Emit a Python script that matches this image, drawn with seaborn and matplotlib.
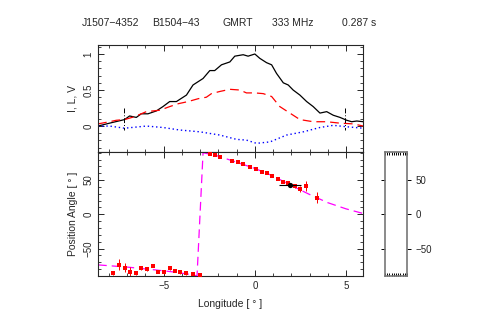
import matplotlib
matplotlib.use("Agg")
from matplotlib import pyplot as plt
from matplotlib.ticker import MultipleLocator
import pandas as pd
import seaborn as sns

# profile (normalised)
lon_i = [-8.6, -7.97, -7.14, -6.87, -6.5, -6.23, -5.86, -5.4, -5.04, -4.67, -4.3, -3.75, -3.39,
         -2.84, -2.47, -2.2, -1.83, -1.37, -1.1, -0.64, -0.37, 0.0, 0.27, 0.64, 0.92, 1.19, 1.56,
         1.83, 2.1, 2.47, 2.84, 3.2, 3.57, 3.94, 4.3, 4.67, 5.04, 5.31, 5.59, 5.95]
stokes_i = [0.0, 0.04, 0.09, 0.14, 0.12, 0.17, 0.17, 0.21, 0.27, 0.34, 0.34, 0.43, 0.57,
            0.66, 0.77, 0.77, 0.85, 0.89, 0.97, 0.99, 0.97, 1.0, 0.94, 0.88, 0.85, 0.73, 0.60,
            0.57, 0.5, 0.43, 0.34, 0.27, 0.18, 0.2, 0.15, 0.12, 0.08, 0.06, 0.07, 0.06]
lon_l = [-8.6, -7.97, -7.6, -7.14, -6.6, -5.95, -5.2, -4.67, -4.2, -3.66, -3.1, -2.66, -2.38,
         -1.92, -1.37, -0.82, -0.46, 0.0, 0.46, 0.92, 1.37, 1.92, 2.47, 3.2, 3.94, 4.67, 5.4, 5.95]
stokes_l = [0.03, 0.06, 0.08, 0.09, 0.13, 0.2, 0.22, 0.27, 0.31, 0.34, 0.38, 0.40, 0.45,
            0.48, 0.51, 0.5, 0.46, 0.46, 0.45, 0.41, 0.27, 0.18, 0.09, 0.06, 0.06, 0.04, 0.03, 0.0]
lon_v = [-8.6, -7.97, -7.14, -5.95, -5.04, -4.12, -3.02, -1.92, -1.0, -0.46, 0.09, 0.83, 1.74,
         2.66, 3.57, 4.3, 5.04, 5.95]
stokes_v = [0.0, 0.0, -0.03, 0.0, -0.02, -0.055, -0.08, -0.125, -0.185, -0.195, -0.24, -0.22,
            -0.125, -0.08, -0.02, 0.01, -0.01, -0.03]
window = [-7.15, 4.95]

# position angle
pa_lon = [-7.78, -7.45, -7.14, -6.87, -6.54, -6.23, -5.92, -5.59, -5.31, -5.0, -4.67, -4.4,
          -4.12, -3.79, -3.39, -3.02,
          -2.47, -2.2, -1.92, -1.28, -0.92, -0.64, -0.27, 0.09, 0.37, 0.64, 0.92, 1.28, 1.56,
          1.83, 2.2, 2.47, 2.8, 3.39]
pa_deg = [-86, -73.8, -77.7, -83.5, -86, -77.7, -79.6, -74.8, -83.5, -84.5, -78.6, -82.5,
          -84.5, -86, -87.4, -88.3,
          87.4, 86.4, 84, 77.7, 75.7, 72.8, 69.4, 66, 62, 59.7, 56.3, 51.5, 47.6,
          45.1, 41.7, 36.9, 41.7, 24.3]
pa_err = [3, 8, 6, 6, 3, 3, 3, 2.5, 2.5, 2.5, 2, 2, 2, 2, 2, 2,
          1.5, 1.5, 1.5, 1.5, 1.5, 1.5, 1.5, 1.5, 1.5, 1.5, 1.5, 2, 2,
          2.5, 3, 5, 7, 8]
fit_lon = [-8.6, -7.0, -5.5, -4.5, -3.6, -3.17, -2.84, -2.0, -1.0, 0.0, 1.0, 2.0, 3.0, 4.0,
           5.0, 5.9]
fit_pa = [-73.8, -77, -81, -84, -87.5, -89.8, 90, 85, 76, 67, 56, 42, 29, 17, 8, 1.5]
phi0, phi0_err, pa0 = 1.92, 0.6, 42.7

sns.set_style("ticks")
plt.rcParams["font.family"] = ["Liberation Sans", "DejaVu Sans"]
plt.rcParams.update({
    "font.size": 7, "axes.linewidth": 0.8,
    "xtick.direction": "in", "ytick.direction": "in",
    "xtick.top": True, "ytick.right": True,
    "xtick.major.size": 4, "ytick.major.size": 4,
    "xtick.minor.size": 2, "ytick.minor.size": 2,
    "xtick.major.width": 0.7, "ytick.major.width": 0.7,
    "xtick.minor.width": 0.6, "ytick.minor.width": 0.6,
})

fig = plt.figure(figsize=(4.91, 3.27), dpi=100)
ax1 = fig.add_axes([0.1996, 0.5352, 0.5397, 0.3272])
ax2 = fig.add_axes([0.1996, 0.156, 0.5397, 0.3792])
ax3 = fig.add_axes([0.784, 0.156, 0.0448, 0.3792])

df_i = pd.DataFrame({"lon": lon_i, "val": stokes_i})
df_l = pd.DataFrame({"lon": lon_l, "val": stokes_l})
df_v = pd.DataFrame({"lon": lon_v, "val": stokes_v})
sns.lineplot(data=df_i, x="lon", y="val", ax=ax1, color="black", lw=0.9, sort=False, estimator=None)
sns.lineplot(data=df_l, x="lon", y="val", ax=ax1, color="red", lw=0.9, sort=False, estimator=None,
             linestyle=(0, (7, 4)))
sns.lineplot(data=df_v, x="lon", y="val", ax=ax1, color="blue", lw=1.0, sort=False, estimator=None,
             linestyle=(0, (1, 2)))
for w in window:
    ax1.plot([w, w], [0.245, -0.055], color="black", lw=0.7, ls=(0, (5, 2, 1, 2)))
ax1.set_xlim(-8.6, 5.93)
ax1.set_ylim(-0.36, 1.125)
ax1.set_yticks([0, 0.5, 1])
ax1.set_yticklabels(["0", "0.5", "1"], rotation=90, va="center")
ax1.yaxis.set_minor_locator(MultipleLocator(0.1))
ax1.xaxis.set_major_locator(MultipleLocator(5))
ax1.xaxis.set_minor_locator(MultipleLocator(1))
ax1.tick_params(labelbottom=False)
ax1.set_xlabel("")
ax1.set_ylabel("I, L, V", fontsize=7.5)

df_fit = pd.DataFrame({"lon": fit_lon, "pa": fit_pa})
sns.lineplot(data=df_fit, x="lon", y="pa", ax=ax2, color="magenta", lw=0.9, sort=False,
             estimator=None, linestyle=(0, (7, 4)), zorder=1)
ax2.errorbar(pa_lon, pa_deg, yerr=pa_err, fmt="s", ms=2.8, mew=0, color="red", ecolor="red",
             elinewidth=0.7, capsize=1.5, capthick=0.7, zorder=3)
ax2.errorbar([phi0], [pa0], xerr=[phi0_err], fmt="o", ms=3.8, mew=0, color="black",
             elinewidth=0.8, capsize=2, capthick=0.8, zorder=4)
ax2.set_xlim(-8.6, 5.93)
ax2.set_ylim(-90, 91)
ax2.set_yticks([-50, 0, 50])
ax2.set_yticklabels(["\u221250", "0", "50"], rotation=90, va="center")
ax2.yaxis.set_minor_locator(MultipleLocator(10))
ax2.xaxis.set_major_locator(MultipleLocator(5))
ax2.xaxis.set_minor_locator(MultipleLocator(1))
ax2.set_xticks([-5, 0, 5])
ax2.set_xticklabels(["\u22125", "0", "5"])
ax2.set_xlabel("Longitude [ \u00b0 ]", fontsize=7.5, labelpad=6)
ax2.set_ylabel("Position Angle [ \u00b0 ]", fontsize=7.5)

# side panel (empty PA histogram frame)
ax3.set_ylim(-90, 91)
ax3.set_xlim(0, 1)
for s in ax3.spines.values():
    s.set_color("#777777")
    s.set_linewidth(1.2)
ax3.set_yticks([-50, 0, 50])
ax3.set_yticklabels(["\u221250", "0", "50"])
ax3.tick_params(axis="y", direction="out", left=True, right=True, labelleft=False,
                labelright=True, color="black", length=3)
ax3.tick_params(axis="y", which="minor", left=False, right=False)
ax3.xaxis.set_major_locator(MultipleLocator(0.1))
ax3.tick_params(axis="x", direction="in", top=True, bottom=True, labelbottom=False,
                length=2, color="black")

fig.text(0.166, 0.93, "J1507\u22124352", fontsize=7.5, va="center")
fig.text(0.309, 0.93, "B1504\u221243", fontsize=7.5, va="center")
fig.text(0.454, 0.93, "GMRT", fontsize=7.5, va="center")
fig.text(0.553, 0.93, "333 MHz", fontsize=7.5, va="center")
fig.text(0.696, 0.93, "0.287 s", fontsize=7.5, va="center")

fig.savefig("out.png", dpi=100)
